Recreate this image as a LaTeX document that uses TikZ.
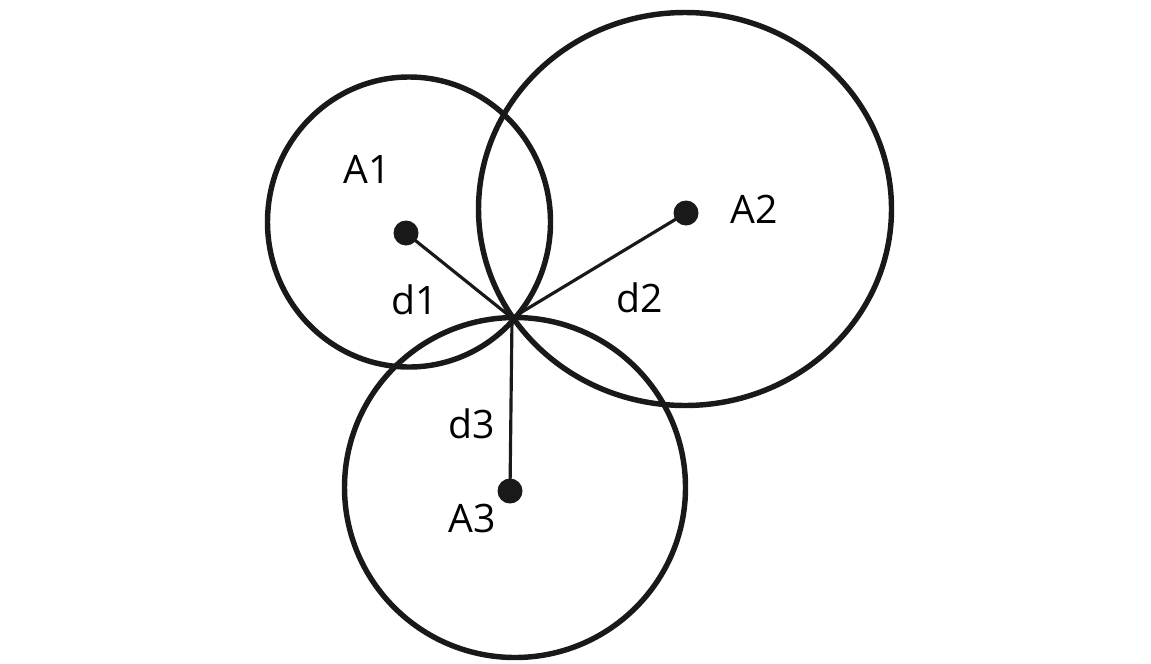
\documentclass[tikz,border=0pt]{standalone}
\usepackage{fontspec}
\setmainfont{Open Sans}
\usetikzlibrary{positioning}

\begin{document}
\begin{tikzpicture}[
      x=0.02cm, y=-0.02cm,
      every node/.style={font=\fontsize{22.3}{26}\selectfont},
      ring/.style={draw=black!90, line width=3.1pt},
      anchorpt/.style={circle, fill=black!90, inner sep=0pt, minimum size=0.5cm},
      dist/.style={draw=black!90, line width=1.8pt},
      lbl/.style={inner sep=0pt},
    ]
    \useasboundingbox (0,0) rectangle (1151,663);

    % Range circles
    \draw[ring] (409,222) ellipse [x radius=141.5, y radius=145];
    \draw[ring] (685,209) ellipse [x radius=206.5, y radius=196.5];
    \draw[ring] (515,487.5) ellipse [x radius=170.5, y radius=170];

    % Anchors
    \node[anchorpt] (a1) at (406,233) {};
    \node[anchorpt] (a2) at (686,213) {};
    \node[anchorpt] (a3) at (510,491) {};

    % Common point
    \coordinate (meet) at (512,318);

    % Distances
    \draw[dist] (a1.center) -- (meet);
    \draw[dist] (a2.center) -- (meet);
    \draw[dist] (a3.center) -- (meet);

    % Labels
    \node[lbl] (la1) at (367,169) {A1};
    \node[lbl] (la2) at (754,209) {A2};
    \node[lbl] (la3) at (472,518) {A3};
    \node[lbl] (ld1) at (415,300) {d1};
    \node[lbl] (ld2) at (640,298) {d2};
    \node[lbl] (ld3) at (472,424) {d3};
  \end{tikzpicture}
\end{document}
